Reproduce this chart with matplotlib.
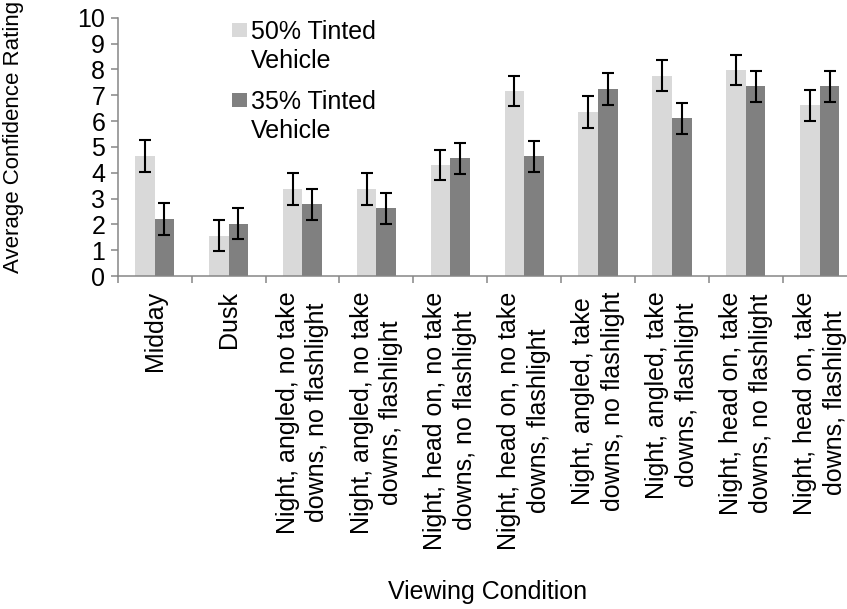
import matplotlib
matplotlib.use("Agg")
import matplotlib.pyplot as plt
import numpy as np
from matplotlib.patches import Rectangle

plt.rcParams['font.family'] = ['Liberation Sans', 'DejaVu Sans']

categories = [
    "Midday",
    "Dusk",
    "Night, angled, no take\ndowns, no flashlight",
    "Night, angled, no take\ndowns, flashlight",
    "Night, head on, no take\ndowns, no flashlight",
    "Night, head on, no take\ndowns, flashlight",
    "Night, angled, take\ndowns, no flashlight",
    "Night, angled, take\ndowns, flashlight",
    "Night, head on, take\ndowns, no flashlight",
    "Night, head on, take\ndowns, flashlight",
]
series_names = ["50% Tinted\nVehicle", "35% Tinted\nVehicle"]
tint50 = [4.64, 1.56, 3.36, 3.36, 4.29, 7.16, 6.34, 7.75, 7.96, 6.62]
tint50_err = [0.61, 0.60, 0.61, 0.61, 0.59, 0.59, 0.61, 0.60, 0.58, 0.60]
tint35 = [2.22, 2.03, 2.77, 2.62, 4.56, 4.63, 7.24, 6.10, 7.35, 7.35]
tint35_err = [0.62, 0.61, 0.59, 0.61, 0.60, 0.59, 0.62, 0.61, 0.60, 0.60]
yticks = list(range(0, 11))

W, H = 847, 609
fig = plt.figure(figsize=(W / 100, H / 100), dpi=100)
ax_left, ax_right, ax_top, ax_bottom = 117.7, 856.7, 17.7, 276.0
ax = fig.add_axes([ax_left / W, (H - ax_bottom) / H,
                   (ax_right - ax_left) / W, (ax_bottom - ax_top) / H])

FS = 18
c_light = "#D9D9D9"
c_dark = "#808080"
c_axis = "#868686"
bw = 0.265
x = np.arange(len(categories))

ekw = dict(ecolor="black", elinewidth=1.5, capsize=4, capthick=1.5)
ax.bar(x - bw / 2, tint50, bw, color=c_light, yerr=tint50_err, error_kw=ekw, zorder=2)
ax.bar(x + bw / 2, tint35, bw, color=c_dark, yerr=tint35_err, error_kw=ekw, zorder=2)

ax.set_xlim(-0.5, len(categories) - 0.5)
ax.set_ylim(0, 10)
ax.set_yticks(yticks)
ax.set_yticklabels([str(t) for t in yticks], fontsize=FS)
ax.set_xticks(x)
ax.set_xticklabels(categories, rotation=90, fontsize=FS, va="top", ha="center",
                   multialignment="center", linespacing=1.3)
ax.set_xticks(np.arange(len(categories) + 1) - 0.5, minor=True)
ax.tick_params(axis="x", which="major", length=0, pad=11)
ax.tick_params(axis="x", which="minor", length=5, width=1.1, color=c_axis, direction="out")
ax.tick_params(axis="y", length=5, width=1.1, color=c_axis, direction="out", pad=4)

for s in ["top", "right"]:
    ax.spines[s].set_visible(False)
for s in ["left", "bottom"]:
    ax.spines[s].set_color(c_axis)
    ax.spines[s].set_linewidth(1.1)

ax.set_xlabel("Viewing Condition", fontsize=FS)
ax.xaxis.set_label_coords(0.5, (ax_bottom - 592) / (ax_bottom - ax_top))
ax.xaxis.label.set_va("center")
ax.set_ylabel("Average Confidence Rating", fontsize=16)
ax.yaxis.set_label_coords((14 - ax_left) / (ax_right - ax_left),
                          (ax_bottom - 137) / (ax_bottom - ax_top))
ax.yaxis.label.set_va("center")

# legend (manual)
def px(xp, yp):
    return xp / W, (H - yp) / H

for (name, col, sq_top, base1) in [(series_names[0], c_light, 23, 39),
                                    (series_names[1], c_dark, 93, 109)]:
    sx, sy = px(232, sq_top + 14)
    fig.add_artist(Rectangle((sx, sy), 15 / W, 14 / H, transform=fig.transFigure,
                             facecolor=col, edgecolor="none"))
    for i, line in enumerate(name.split("\n")):
        tx, ty = px(251, base1 + 29 * i)
        fig.text(tx, ty, line, fontsize=FS, va="baseline", ha="left")

fig.savefig("out.png", dpi=100)
